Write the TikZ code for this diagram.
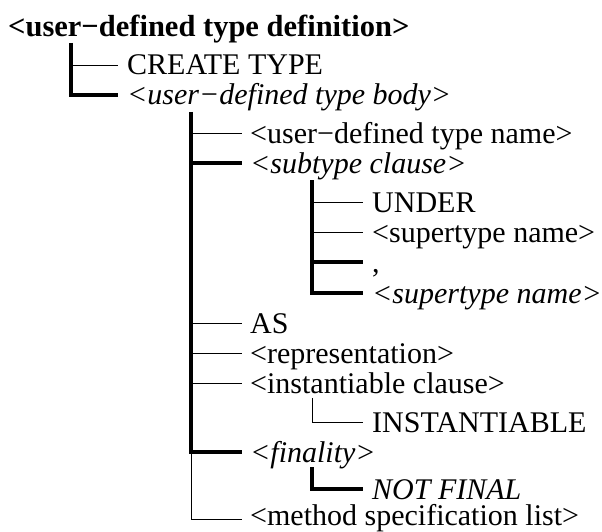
\documentclass[tikz,border=0pt]{standalone}
\usepackage{fontspec}
\setmainfont{Liberation Serif}
\begin{document}
\begin{tikzpicture}[x=1pt,y=-1pt,
  lbl/.style={anchor=base west,inner sep=0pt,font=\fontsize{30}{34}\selectfont},
  ital/.style={lbl,font=\fontsize{30}{34}\selectfont\itshape},
  thinl/.style={line width=0.9pt},
  thickl/.style={line width=3.8pt},
  line cap=butt]
\useasboundingbox (0,0) rectangle (602,532);

% tree levels: x of the vertical trunk, end of the branches, start of the text
\def\ba{71}\def\bb{191}\def\bc{312}
\def\ea{118}\def\eb{242}\def\ec{363}
\def\ta{127}\def\tb{250}\def\tc{372}
\def\dy{10}

% root
\node[lbl,font=\fontsize{30.5}{34}\selectfont\bfseries] (root) at (8,37) {<user−defined type definition>};

% level 1
\node[lbl]  (create) at (\ta,65+\dy) {CREATE TYPE};
\node[ital] (body)   at (\ta,95+\dy) {<user−defined type body>};

% level 2
\node[lbl]  (udtname)  at (\tb,133+\dy) {<user−defined type name>};
\node[ital] (subtype)  at (\tb,163+\dy) {<subtype clause>};
\node[lbl]  (as)       at (\tb,323+\dy) {AS};
\node[lbl]  (repr)     at (\tb,353+\dy) {<representation>};
\node[lbl]  (inst)     at (\tb,383+\dy) {<instantiable clause>};
\node[ital] (finality) at (\tb,452+\dy) {<finality>};
\node[lbl]  (method)   at (\tb,525) {<method specification list>};

% level 3
\node[lbl]  (under)    at (\tc,202+\dy) {UNDER};
\node[lbl]  (super)    at (\tc,232+\dy) {<supertype name>};
\node[lbl]  (comma)    at (\tc,262+\dy) {,};
\node[ital] (superopt) at (\tc,293+\dy) {<supertype name>};
\node[lbl]  (instkw)   at (\tc,422+\dy) {INSTANTIABLE};
\node[ital] (notfinal) at (\tc,489+\dy) {NOT FINAL};

% trunk anchors
\coordinate (r0) at (\ba,43);
\coordinate (r1) at (\bb,112);
\coordinate (r2) at (\bc,180);
\coordinate (r3) at (\bc,398);
\coordinate (r4) at (\bc,467);

% root branches
\draw[thickl] (r0) -- (\ba,95) -- (\ea,95);
\draw[thinl]  (\ba,65) -- (\ea,65);

% body branches
\draw[thickl] (r1) -- (\bb,452) -- (\eb,452);
\draw[thinl]  (\bb,452) -- (\bb,519) -- (\eb,519);
\draw[thickl] (\bb,163) -- (\eb,163);
\foreach \y in {133,323,353,383} \draw[thinl] (\bb,\y) -- (\eb,\y);

% subtype clause branches
\draw[thickl] (r2) -- (\bc,293) -- (\ec,293);
\draw[thickl] (\bc,262) -- (\ec,262);
\foreach \y in {202,232} \draw[thinl] (\bc,\y) -- (\ec,\y);

% instantiable clause
\draw[thinl] (r3) -- (\bc,422) -- (\ec,422);

% finality
\draw[thickl] (r4) -- (\bc,489) -- (\ec,489);
\end{tikzpicture}
\end{document}
